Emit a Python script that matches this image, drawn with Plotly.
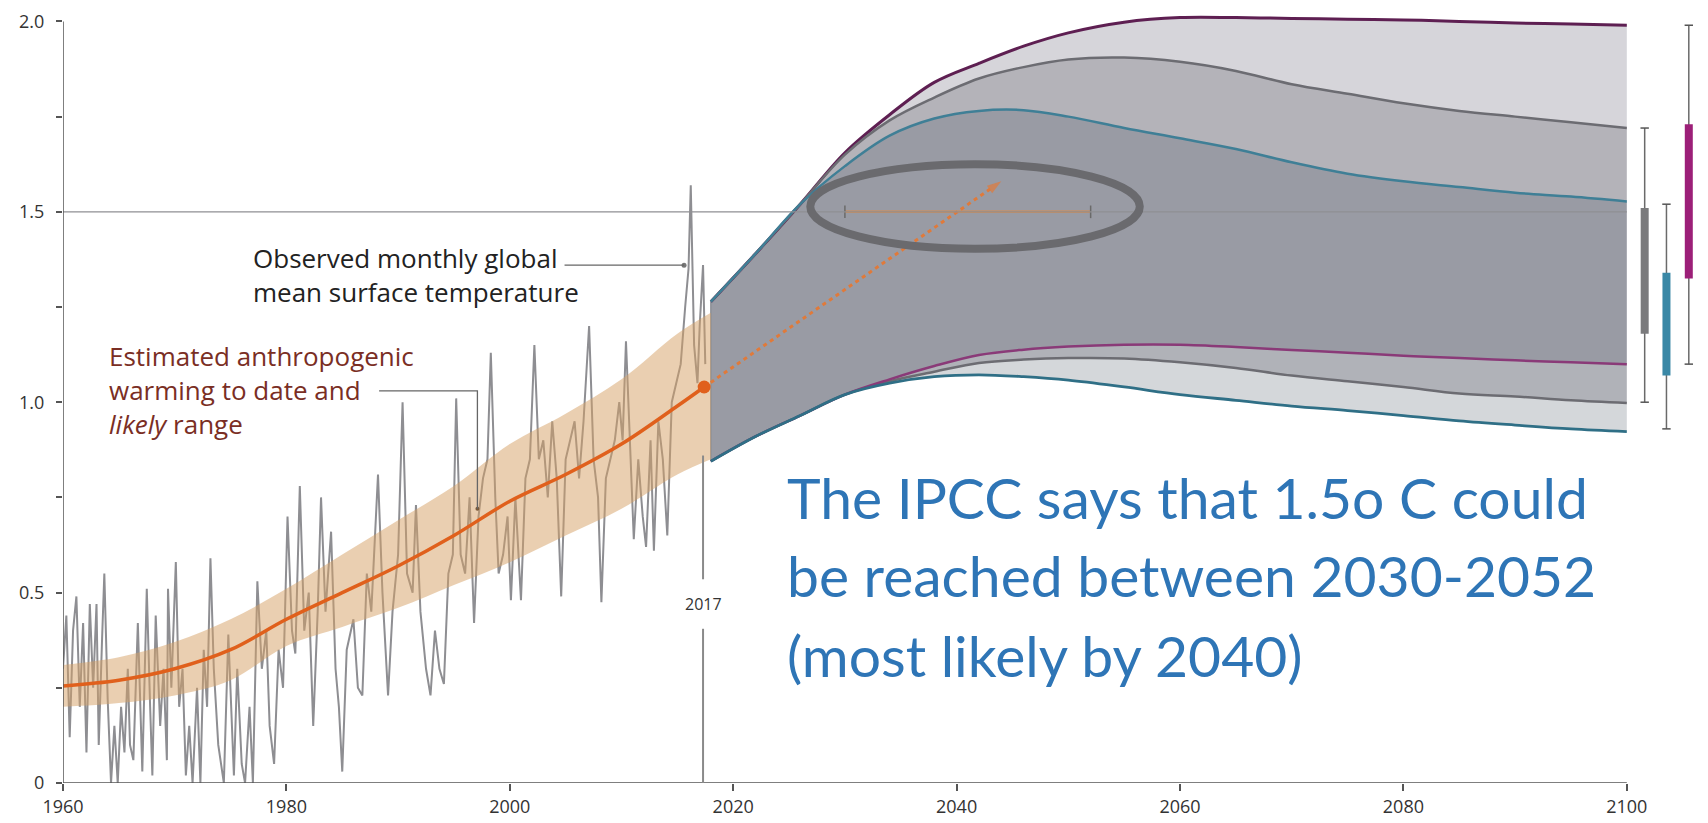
import plotly.graph_objects as go

# ---------------- data ----------------
obs_year = [1960.0,1960.3,1960.6,1960.9,1961.2,1961.5,1961.8,1962.1,1962.4,1962.7,1963.0,1963.2,1963.5,1963.7,
            1964.0,1964.3,1964.6,1964.9,1965.2,1965.5,1965.8,1966.0,1966.3,1966.7,1967.1,1967.5,1967.8,1968.0,
            1968.3,1968.7,1969.0,1969.3,1969.4,1969.7,1970.1,1970.4,1970.7,1971.0,1971.3,1971.6,1972.0,1972.3,
            1972.6,1972.9,1973.2,1973.5,1973.9,1974.4,1974.8,1975.3,1975.6,1976.0,1976.3,1976.7,1977.0,1977.4,
            1977.8,1978.2,1978.5,1978.9,1979.3,1979.7,1980.1,1980.5,1980.8,1981.2,1981.6,1982.0,1982.4,1982.8,
            1983.1,1983.5,1984.0,1984.4,1984.7,1985.0,1985.4,1986.0,1986.4,1986.8,1987.2,1987.6,1988.2,1988.6,
            1989.1,1989.5,1990.0,1990.4,1990.8,1991.3,1991.6,1992.0,1992.5,1992.9,1993.3,1993.7,1994.1,1994.5,
            1994.9,1995.2,1995.6,1996.0,1996.4,1996.8,1997.2,1997.6,1998.0,1998.3,1998.7,1999.0,1999.4,1999.8,
            2000.1,2000.5,2001.0,2001.4,2001.8,2002.2,2002.6,2003.0,2003.4,2003.8,2004.2,2004.6,2005.0,2005.4,
            2005.8,2006.2,2006.6,2007.1,2007.5,2007.9,2008.2,2008.6,2009.0,2009.4,2009.8,2010.1,2010.4,2010.8,
            2011.1,2011.5,2011.9,2012.2,2012.6,2012.9,2013.3,2013.7,2014.1,2014.5,2014.9,2015.3,2015.7,2016.0,
            2016.2,2016.5,2016.8,2017.0,2017.3,2017.5]
obs_temp = [0.30,0.44,0.12,0.40,0.49,0.20,0.42,0.08,0.47,0.25,0.47,0.10,0.38,0.55,
            0.22,0.00,0.15,0.00,0.20,0.08,0.30,0.10,0.06,0.42,0.03,0.51,0.20,0.02,
            0.44,0.15,0.30,0.06,0.51,0.25,0.58,0.20,0.30,0.02,0.15,0.00,0.25,0.00,
            0.35,0.20,0.59,0.30,0.10,0.00,0.39,0.02,0.30,0.05,0.00,0.20,0.00,0.53,
            0.30,0.40,0.15,0.05,0.35,0.25,0.70,0.40,0.34,0.78,0.40,0.50,0.15,0.45,
            0.75,0.45,0.66,0.30,0.20,0.03,0.35,0.43,0.25,0.23,0.55,0.45,0.81,0.50,
            0.23,0.45,0.60,1.00,0.55,0.50,0.73,0.45,0.30,0.23,0.40,0.30,0.26,0.55,
            0.60,1.01,0.60,0.55,0.75,0.42,0.70,0.80,0.85,1.13,0.75,0.55,0.60,0.70,
            0.48,0.75,0.48,0.80,0.85,1.15,0.85,0.90,0.75,0.95,0.80,0.49,0.85,0.90,
            0.95,0.80,0.95,1.20,0.85,0.75,0.475,0.80,0.85,0.90,1.00,0.90,1.16,0.85,
            0.64,0.85,0.70,0.62,0.90,0.61,0.95,0.85,0.65,1.00,1.05,1.10,1.25,1.35,
            1.57,1.15,1.05,1.20,1.36,1.10]

anth_year = [1960, 1965, 1970, 1975, 1980, 1985, 1990, 1995, 2000, 2005, 2010, 2015, 2017.4]
anth_mid  = [0.255, 0.27, 0.30, 0.35, 0.43, 0.50, 0.57, 0.65, 0.74, 0.81, 0.89, 0.99, 1.04]
band_year = [1960, 1965, 1970, 1975, 1980, 1985, 1990, 1995, 2000, 2005, 2010, 2015, 2018]
band_hi   = [0.31, 0.33, 0.37, 0.43, 0.51, 0.60, 0.69, 0.78, 0.89, 0.97, 1.06, 1.18, 1.235]
band_lo   = [0.20, 0.21, 0.23, 0.27, 0.36, 0.41, 0.46, 0.52, 0.58, 0.65, 0.72, 0.81, 0.85]

proj_year   = [2018, 2022, 2026, 2030, 2034, 2038, 2042, 2046, 2050, 2055, 2060, 2065, 2070, 2075, 2080, 2085, 2090, 2095, 2100]
purple_hi   = [1.264, 1.39, 1.52, 1.655, 1.755, 1.84, 1.89, 1.935, 1.97, 1.998, 2.01, 2.01, 2.008, 2.006, 2.004, 2.0, 1.996, 1.993, 1.99]
gray_hi     = [1.264, 1.39, 1.52, 1.65, 1.74, 1.80, 1.85, 1.88, 1.90, 1.905, 1.894, 1.87, 1.835, 1.81, 1.785, 1.765, 1.75, 1.735, 1.72]
teal_hi     = [1.264, 1.39, 1.52, 1.62, 1.70, 1.745, 1.765, 1.767, 1.75, 1.72, 1.693, 1.665, 1.63, 1.60, 1.58, 1.565, 1.55, 1.54, 1.527]
purple_lo   = [0.845, 0.91, 0.965, 1.02, 1.06, 1.095, 1.124, 1.138, 1.146, 1.151, 1.151, 1.145, 1.137, 1.13, 1.122, 1.116, 1.11, 1.105, 1.10]
gray_lo     = [0.845, 0.91, 0.965, 1.02, 1.055, 1.08, 1.103, 1.112, 1.116, 1.115, 1.105, 1.09, 1.07, 1.055, 1.04, 1.023, 1.015, 1.005, 0.998]
teal_lo     = [0.845, 0.91, 0.965, 1.02, 1.05, 1.067, 1.072, 1.067, 1.058, 1.04, 1.02, 1.005, 0.99, 0.978, 0.965, 0.951, 0.94, 0.93, 0.923]

bar_keys      = ["gray", "teal", "purple"]
bar_whisk_lo  = [1.00, 0.93, 1.10]
bar_whisk_hi  = [1.72, 1.52, 1.99]
bar_likely_lo = [1.18, 1.07, 1.325]
bar_likely_hi = [1.51, 1.34, 1.73]

crossing_range = [2030, 2052]
now_year, now_temp = 2017.4, 1.04
likely_cross = (2044, 1.58)

x_ticks = [1960, 1980, 2000, 2020, 2040, 2060, 2080, 2100]
y_ticks = [0, 0.25, 0.5, 0.75, 1.0, 1.25, 1.5, 1.75, 2.0]
y_ticktext = ["0", "", "0.5", "", "1.0", "", "1.5", "", "2.0"]

blue_lines = ["The IPCC says that 1.5o C could",
              "be reached between 2030-2052",
              "(most likely by 2040)"]
blue_line_y = [0.751, 0.546, 0.337]

# ---------------- styles ----------------
C_PURPLE = "#5e1f52"
C_PURPLE_L = "#8a3a78"
C_GRAY = "#6c6c72"
C_TEAL = "#3d8aa3"
C_ORANGE = "#e0601c"
FILL_LIGHT_T = "#d6d5da"
FILL_MID_T = "#b4b3b9"
FILL_DARK = "#999ba4"
FILL_MID_B = "#b0b2b8"
FILL_LIGHT_B = "#d4d7da"
X_RANGE = [1960, 2107]
Y_RANGE = [0, 2.03]

fig = go.Figure()

# observed monthly temperature
fig.add_trace(go.Scatter(x=obs_year, y=obs_temp, mode="lines",
                         line=dict(color="#8e8e92", width=2), hoverinfo="skip"))

# projection fan (stacked fills)
layers = [
    (teal_lo, None),
    (gray_lo, FILL_LIGHT_B),
    (purple_lo, FILL_MID_B),
    (teal_hi, FILL_DARK),
    (gray_hi, FILL_MID_T),
    (purple_hi, FILL_LIGHT_T),
]
for ys, fc in layers:
    fig.add_trace(go.Scatter(x=proj_year, y=ys, mode="lines",
                             line=dict(width=0, shape="spline"),
                             fill="tonexty" if fc else None, fillcolor=fc, hoverinfo="skip"))

# fan left edge
fig.add_trace(go.Scatter(x=[proj_year[0], proj_year[0]], y=[teal_lo[0], purple_hi[0]], mode="lines",
                         line=dict(color="#8d8f96", width=1.5), hoverinfo="skip"))

# fan lines
for ys, col, w in [(purple_hi, C_PURPLE, 3), (gray_hi, C_GRAY, 2.5), (teal_hi, "#3f7f96", 2.5),
                   (gray_lo, C_GRAY, 2.5), (purple_lo, C_PURPLE_L, 2.5), (teal_lo, "#2f6f86", 2.8)]:
    fig.add_trace(go.Scatter(x=proj_year, y=ys, mode="lines",
                             line=dict(color=col, width=w, shape="spline"), hoverinfo="skip"))

# crossing range bar at 1.5
fig.add_trace(go.Scatter(x=crossing_range, y=[1.5, 1.5], mode="lines+markers",
                         line=dict(color="#d88c4e", width=2.5),
                         marker=dict(symbol="line-ns", size=9, line=dict(color="#6a6a6a", width=1.5)),
                         hoverinfo="skip"))

# right-hand range bars
bar_colors = {"gray": "#7a7a7c", "teal": "#3a88a6", "purple": "#9c1f78"}
bar_offsets = {"gray": 1.6, "teal": 3.55, "purple": 5.55}
for k, wl, wh, ll, lh in zip(bar_keys, bar_whisk_lo, bar_whisk_hi, bar_likely_lo, bar_likely_hi):
    bx = x_ticks[-1] + bar_offsets[k]
    fig.add_trace(go.Scatter(x=[bx, bx], y=[wl, wh], mode="lines+markers",
                             line=dict(color="#6a6a6a", width=1.5),
                             marker=dict(symbol="line-ew", size=6, line=dict(color="#555", width=1.5)),
                             hoverinfo="skip", cliponaxis=False))
    fig.add_trace(go.Scatter(x=[bx, bx], y=[ll, lh], mode="lines",
                             line=dict(color=bar_colors[k], width=8),
                             hoverinfo="skip", cliponaxis=False))

# observed leader end dot
fig.add_trace(go.Scatter(x=[2015.6], y=[1.36], mode="markers",
                         marker=dict(color="#777", size=5), hoverinfo="skip"))

# ---- overlay layer (drawn above observed series): anthropogenic band, line, arrow ----
fig.add_trace(go.Scatter(x=band_year, y=band_lo, mode="lines", line=dict(width=0, shape="spline"),
                         hoverinfo="skip", xaxis="x2", yaxis="y2"))
fig.add_trace(go.Scatter(x=band_year, y=band_hi, mode="lines", line=dict(width=0, shape="spline"),
                         fill="tonexty", fillcolor="rgba(214,160,100,0.5)", hoverinfo="skip",
                         xaxis="x2", yaxis="y2"))
fig.add_trace(go.Scatter(x=anth_year, y=anth_mid, mode="lines",
                         line=dict(color=C_ORANGE, width=3.5, shape="spline"), hoverinfo="skip",
                         xaxis="x2", yaxis="y2"))
fig.add_trace(go.Scatter(x=[now_year, likely_cross[0]], y=[now_temp, likely_cross[1]], mode="lines+markers",
                         line=dict(color="#e07a3a", width=3, dash="4px,4px"),
                         marker=dict(symbol="arrow", size=[0, 15], angleref="previous",
                                     color="#e07a3a", line=dict(width=0)),
                         hoverinfo="skip", xaxis="x2", yaxis="y2"))
fig.add_trace(go.Scatter(x=[now_year], y=[now_temp], mode="markers",
                         marker=dict(color=C_ORANGE, size=13), hoverinfo="skip",
                         xaxis="x2", yaxis="y2"))
fig.add_trace(go.Scatter(x=[1997.1], y=[0.72], mode="markers",
                         marker=dict(color="#7a5a3a", size=4), hoverinfo="skip",
                         xaxis="x2", yaxis="y2"))

shapes = [
    dict(type="line", xref="x", yref="y", x0=1960, x1=2100, y0=1.5, y1=1.5,
         line=dict(color="#8f8f93", width=1.3), layer="above"),
    dict(type="line", xref="x", yref="y", x0=1960, x1=1960, y0=0, y1=2.0,
         line=dict(color="#555", width=1.5), layer="above"),
    dict(type="line", xref="x", yref="y", x0=1960, x1=2100, y0=0, y1=0,
         line=dict(color="#555", width=1.5), layer="above"),
    dict(type="line", xref="x", yref="y", x0=2017.3, x1=2017.3, y0=0, y1=0.405,
         line=dict(color="#8a8a8a", width=2), layer="above"),
    dict(type="line", xref="x", yref="y", x0=2017.3, x1=2017.3, y0=0.535, y1=0.86,
         line=dict(color="#8a8a8a", width=2), layer="above"),
    dict(type="circle", xref="x", yref="y", x0=2026.9, x1=2056.4, y0=1.403, y1=1.625,
         line=dict(color="#6a6a6e", width=8), layer="above"),
    dict(type="line", xref="x", yref="y", x0=2004.9, x1=2015.6, y0=1.36, y1=1.36,
         line=dict(color="#666", width=1.3), layer="above"),
    dict(type="path", xref="x", yref="y", path="M 1988.3 1.03 L 1997.1 1.03 L 1997.1 0.72",
         line=dict(color="#666", width=1.3), layer="above"),
]

annotations = [
    dict(x=1976.8, y=1.333, xref="x", yref="y", xanchor="left", yanchor="middle", showarrow=False,
         text="Observed monthly global<br>mean surface temperature", align="left",
         font=dict(family="Open Sans", size=26, color="#222")),
    dict(x=1963.9, y=1.031, xref="x", yref="y", xanchor="left", yanchor="middle", showarrow=False,
         text="Estimated anthropogenic<br>warming to date and<br><i>likely</i> range", align="left",
         font=dict(family="Open Sans", size=26, color="#7a2e24")),
    dict(x=2017.3, y=0.47, xref="x", yref="y", xanchor="center", yanchor="middle", showarrow=False,
         text="2017", font=dict(family="Open Sans", size=16, color="#333")),
]
for txt, yy in zip(blue_lines, blue_line_y):
    annotations.append(dict(x=2024.6, y=yy, xref="x", yref="y", xanchor="left", yanchor="middle",
                            showarrow=False, text=txt,
                            font=dict(family="Lato", size=57, color="#2e75b6")))

tickfont = dict(family="Open Sans", size=18, color="#333")
fig.update_layout(
    width=1708, height=823,
    margin=dict(l=55, r=11, t=2, b=48),
    paper_bgcolor="white", plot_bgcolor="white",
    showlegend=False,
    shapes=shapes, annotations=annotations,
    xaxis=dict(range=X_RANGE, showgrid=False, zeroline=False, showline=False,
               tickvals=x_ticks, ticks="outside", ticklen=7, tickcolor="#555", tickwidth=1.5,
               tickfont=tickfont),
    yaxis=dict(range=Y_RANGE, showgrid=False, zeroline=False, showline=False,
               tickvals=y_ticks, ticktext=y_ticktext, ticks="outside", ticklen=6, tickcolor="#555",
               tickwidth=1.5, ticklabelstandoff=8, tickfont=tickfont),
    xaxis2=dict(range=X_RANGE, overlaying="x", visible=False),
    yaxis2=dict(range=Y_RANGE, overlaying="y", visible=False),
)

fig.write_html("out.html")
